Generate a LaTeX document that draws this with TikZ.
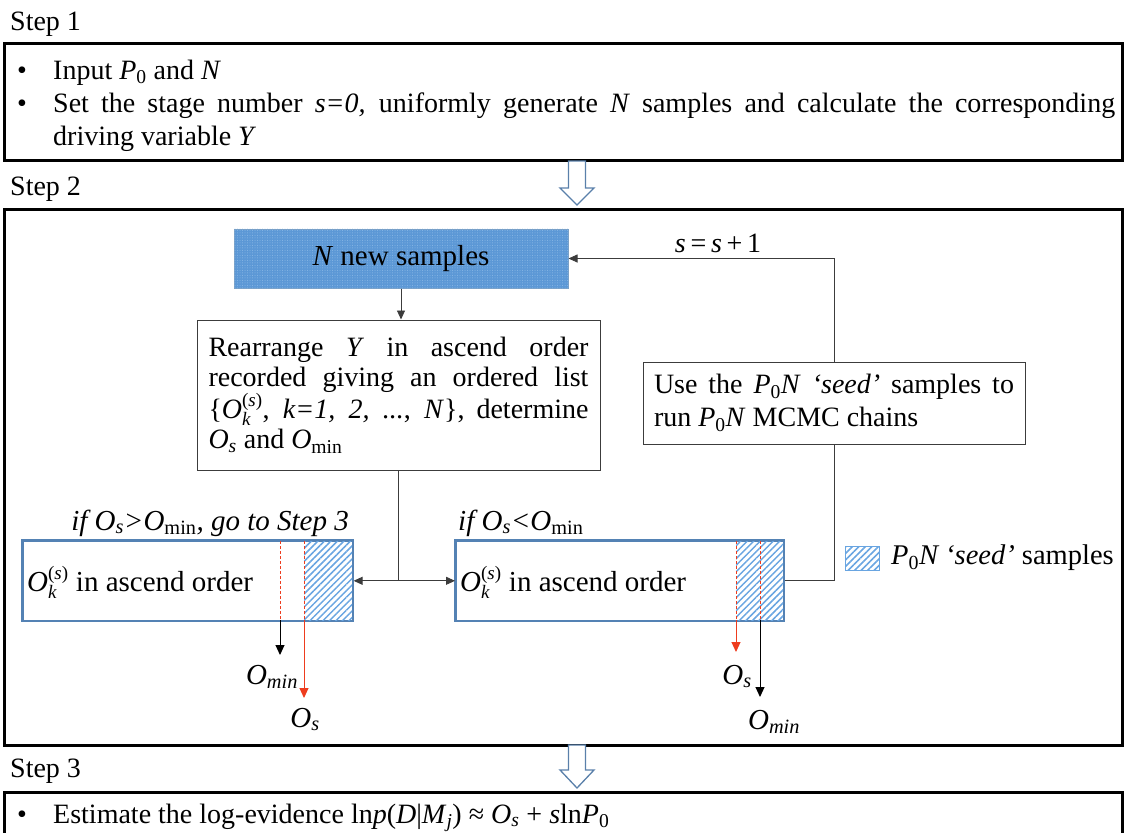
\documentclass[tikz,border=0pt]{standalone}
\usepackage{fontspec}
\setmainfont{Liberation Serif}
\usetikzlibrary{arrows.meta,patterns.meta}
\definecolor{boxblue}{RGB}{84,130,180}
\definecolor{fillblue}{RGB}{92,152,214}
\definecolor{dotblue}{RGB}{140,185,230}
\definecolor{filledge}{RGB}{120,160,200}
\definecolor{hatchblue}{RGB}{105,165,225}
\definecolor{arrowblue}{RGB}{90,128,170}
\definecolor{linegray}{RGB}{60,60,60}
\definecolor{redline}{RGB}{238,60,30}
\newcommand\It[1]{\textit{#1}}
\newcommand\Sb[1]{\textsubscript{#1}}
\newcommand\SbSp[2]{\ensuremath{^{\mbox{\fontsize{19}{19}\selectfont #2}}_{\mbox{\fontsize{19}{19}\selectfont #1}}}}
\tikzset{
  stepbox/.style={draw=black, line width=2.6pt, inner sep=0pt, anchor=north west},
  graybox/.style={draw=linegray, line width=1pt, fill=white},
  bluebox/.style={draw=boxblue, line width=1.6pt, inner sep=0pt, anchor=north west},
  hatch/.style={pattern={Lines[angle=45,distance=4.6pt,line width=1.5pt]}, pattern color=hatchblue},
  conn/.style={draw=linegray, line width=0.9pt},
  arr/.style={conn, -{Triangle[length=9pt,width=8pt]}},
  redarr/.style={draw=redline, line width=1pt, -{Triangle[length=10pt,width=9pt]}},
  blackarr/.style={draw=black, line width=1pt, -{Triangle[length=10pt,width=9pt]}},
  reddash/.style={draw=redline, line width=0.8pt, dash pattern=on 3pt off 2pt},
  body/.style={font=\fontsize{28}{33.5}\selectfont, inner sep=0pt},
  big/.style={font=\fontsize{29}{33}\selectfont, inner sep=0pt},
  hollow/.style={draw=arrowblue, line width=1.3pt, fill=white},
}
\begin{document}
\begin{tikzpicture}[x=1pt,y=-1pt]
\path[use as bounding box] (0,0) rectangle (1125,833);
\clip (0,0) rectangle (1125,833);

% ---------- Step 1 ----------
\node[body, anchor=base west] (lab1) at (10,30) {Step 1};
\node[stepbox, minimum width=1118pt, minimum height=117pt] (s1) at (3,42) {};
\node[body, anchor=base] (b1a) at (22,79) {•};
\node[body, anchor=base west] (t1a) at (53,79) {Input \It{P}\Sb{0} and \It{N}};
\node[body, anchor=base] (b1b) at (22,112) {•};
\node[body, anchor=base west, text width=1062pt, align=justify] (t1b) at (53,112)
  {Set the stage number \It{s=0,} uniformly generate \It{N} samples and calculate the corresponding\linebreak driving variable \It{Y}};

% ---------- Step 2 ----------
\node[body, anchor=base west] (lab2) at (10,195) {Step 2};
\node[stepbox, minimum width=1118pt, minimum height=536pt] (s2) at (3,208) {};

% hollow arrow 1
\coordinate (h1) at (577,161);
\draw[hollow] (h1) ++(-8.5,0) -- ++(0,27) -- ++(-8.5,0) -- (577,205) -- (594,188) -- (585.5,188) -- (585.5,161) -- cycle;

% N new samples
\node[big, draw=filledge, line width=1pt, fill=fillblue, minimum width=334pt, minimum height=59pt] (nn) at (401,258.5) {};
\fill[pattern={Dots[distance=2.5pt,radius=0.5pt]}, pattern color=dotblue] (nn.north west) rectangle (nn.south east);
\node[big] (nnt) at (nn.center) {\It{N} new samples};

% Rearrange box
\node[graybox, body, font=\fontsize{28}{30}\selectfont, minimum width=403pt, minimum height=150pt, text width=380pt, align=justify, inner xsep=11.5pt] (rr) at (398.5,395)
  {Rearrange \It{Y} in ascend order\linebreak recorded giving an ordered list\linebreak \{\It{O}\SbSp{\It{k}}{(\It{s})}, \It{k=1, 2, ...}, \It{N}\}, determine\linebreak \It{O}\Sb{\It{s}} and \It{O}\Sb{min}};

% MCMC box
\node[graybox, body, font=\fontsize{28}{33}\selectfont, minimum width=382pt, minimum height=82pt, text width=360pt, align=justify, inner xsep=11pt] (mc) at (834,403)
  {Use the \It{P}\Sb{0}\It{N} \It{‘seed’} samples to\linebreak run \It{P}\Sb{0}\It{N} MCMC chains};

% s=s+1
\node[body, anchor=base] (inc) at (718,252) {\It{s}\,=\,\It{s}\,+\,1};

% box A
\node[bluebox, minimum width=330pt, minimum height=80pt] (bA) at (22,540) {};
\fill[hatch] (304,540) rectangle (352,620);
\draw[draw=boxblue, line width=1.6pt] (bA.north west) rectangle (bA.south east);
\node[big, anchor=west] (tA) at (27,582) {\It{O}\SbSp{\It{k}}{(\It{s})} in ascend order};
\coordinate (a1t) at (280,541);
\coordinate (a1b) at (280,620);
\coordinate (a2t) at (304,541);
\coordinate (a2b) at (304,620);
\draw[reddash] (a1t) -- (a1b);
\draw[reddash] (a2t) -- (a2b);
\node[body, font=\fontsize{29}{30}\selectfont, anchor=base] (omA) at (272,684) {\It{O}\Sb{\It{min}}};
\node[body, font=\fontsize{29}{30}\selectfont, anchor=base] (osA) at (305,727) {\It{O}\Sb{\It{s}}};
\draw[blackarr] (a1b) -- (280,655);
\draw[redarr] (a2b) -- (304,698);
\node[body, font=\fontsize{29}{30}\selectfont, anchor=base east] (cA) at (349,530) {\It{if O}\Sb{\It{s}}\It{>O}\Sb{min}\It{, go to Step 3}};

% box B
\node[bluebox, minimum width=328pt, minimum height=80pt] (bB) at (455,540) {};
\fill[hatch] (736,540) rectangle (783,620);
\draw[draw=boxblue, line width=1.6pt] (bB.north west) rectangle (bB.south east);
\node[big, anchor=west] (tB) at (460,582) {\It{O}\SbSp{\It{k}}{(\It{s})} in ascend order};
\coordinate (b1t) at (736,541);
\coordinate (b1b) at (736,620);
\coordinate (b2t) at (760,541);
\coordinate (b2b) at (760,620);
\draw[reddash] (b1t) -- (b1b);
\draw[reddash] (b2t) -- (b2b);
\node[body, font=\fontsize{29}{30}\selectfont, anchor=base] (osB) at (737,684) {\It{O}\Sb{\It{s}}};
\node[body, font=\fontsize{29}{30}\selectfont, anchor=base] (omB) at (774,729) {\It{O}\Sb{\It{min}}};
\draw[redarr] (b1b) -- (736,652);
\draw[blackarr] (b2b) -- (760,697);
\node[body, font=\fontsize{29}{30}\selectfont, anchor=base west] (cB) at (458,530) {\It{if O}\Sb{\It{s}}\It{<O}\Sb{min}};

% legend
\node[draw=hatchblue, line width=1pt, hatch, minimum width=34pt, minimum height=24pt, inner sep=0pt] (lg) at (862,558) {};
\node[big, font=\fontsize{28.5}{33}\selectfont, anchor=west] (lgt) at (891,558) {\It{P}\Sb{0}\It{N ‘seed’} samples};

% connectors
\draw[arr] (nn.south) -- (nn.south |- rr.north);
\coordinate (j) at (rr.south |- bA.east);
\draw[conn] (rr.south) -- (j);
\draw[arr] (j) -- (bA.east);
\draw[arr] (j) -- (bB.west);
\draw[conn] (bB.east) -| (mc.south);
\draw[arr] (mc.north) |- (nn.east);

% ---------- Step 3 ----------
\coordinate (h2) at (577,745);
\draw[hollow] (h2) ++(-8.5,0) -- ++(0,25) -- ++(-8.5,0) -- (577,788) -- (594,770) -- (585.5,770) -- (585.5,745) -- cycle;
\node[body, anchor=base west] (lab3) at (10,777) {Step 3};
\node[stepbox, minimum width=1118pt, minimum height=80pt] (s3) at (3,791) {};
\node[body, anchor=base] (b3) at (22,823) {•};
\node[body, anchor=base west] (t3) at (53,823) {Estimate the log-evidence ln\It{p}(\It{D}|\It{M}\Sb{\It{j}}) ≈ \It{O}\Sb{\It{s}} + \It{s}ln\It{P}\Sb{0}};
\end{tikzpicture}
\end{document}
